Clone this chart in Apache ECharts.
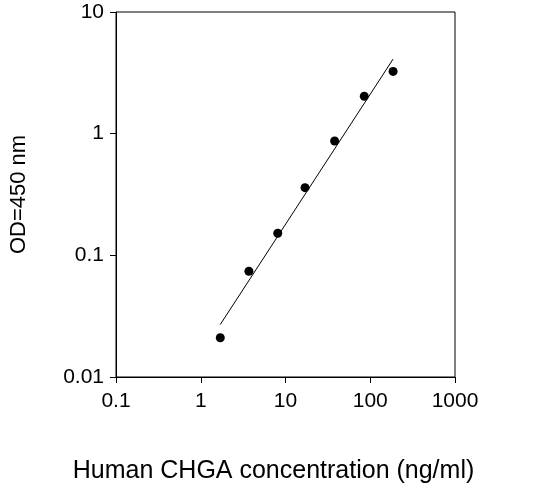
<!DOCTYPE html><html><head><meta charset="utf-8"><script src="https://cdn.jsdelivr.net/npm/echarts@6/dist/echarts.min.js"></script></head><body style="margin:0;background:#fff"><div id="c" style="width:543px;height:494px"></div><script>
const concentrations=[1.7,3.7,8.1,17,38,85,186];
const odValues=[0.021,0.074,0.152,0.36,0.87,2.03,3.25];
const fitX=[1.7,186];
const fitY=[0.027,4.1];
const ch=echarts.init(document.getElementById('c'));
const lab={color:'#000',fontSize:21,fontFamily:'Liberation Sans, Arial'};
const axl={show:true,lineStyle:{color:'#000',width:1}};
ch.setOption({animation:false,
grid:{left:111,right:88,top:12,bottom:117,show:true,borderColor:'#000',borderWidth:1},
xAxis:{type:'log',min:0.1,max:1000,logBase:10,axisLine:axl,axisTick:{show:true,length:6,lineStyle:{color:'#000'}},splitLine:{show:false},axisLabel:{...lab,margin:14,formatter:v=>String(v)},
name:'Human CHGA concentration (ng/ml)',nameLocation:'middle',nameGap:82,nameTextStyle:{color:'#000',fontSize:25,fontFamily:'Liberation Sans, Arial',padding:[0,24,0,0]}},
yAxis:{type:'log',min:0.01,max:10,logBase:10,axisLine:axl,axisTick:{show:true,length:6,lineStyle:{color:'#000'}},splitLine:{show:false},axisLabel:{...lab,margin:12,formatter:v=>String(v)},
name:'OD=450 nm',nameLocation:'middle',nameGap:86,nameTextStyle:{color:'#000',fontSize:22,fontFamily:'Liberation Sans, Arial'}},
series:[
{type:'scatter',data:concentrations.map((x,i)=>[x,odValues[i]]),symbolSize:9,itemStyle:{color:'#000',opacity:1}},
{type:'line',data:fitX.map((x,i)=>[x,fitY[i]]),symbol:'none',lineStyle:{color:'#000',width:1}}
]});
</script></body></html>
